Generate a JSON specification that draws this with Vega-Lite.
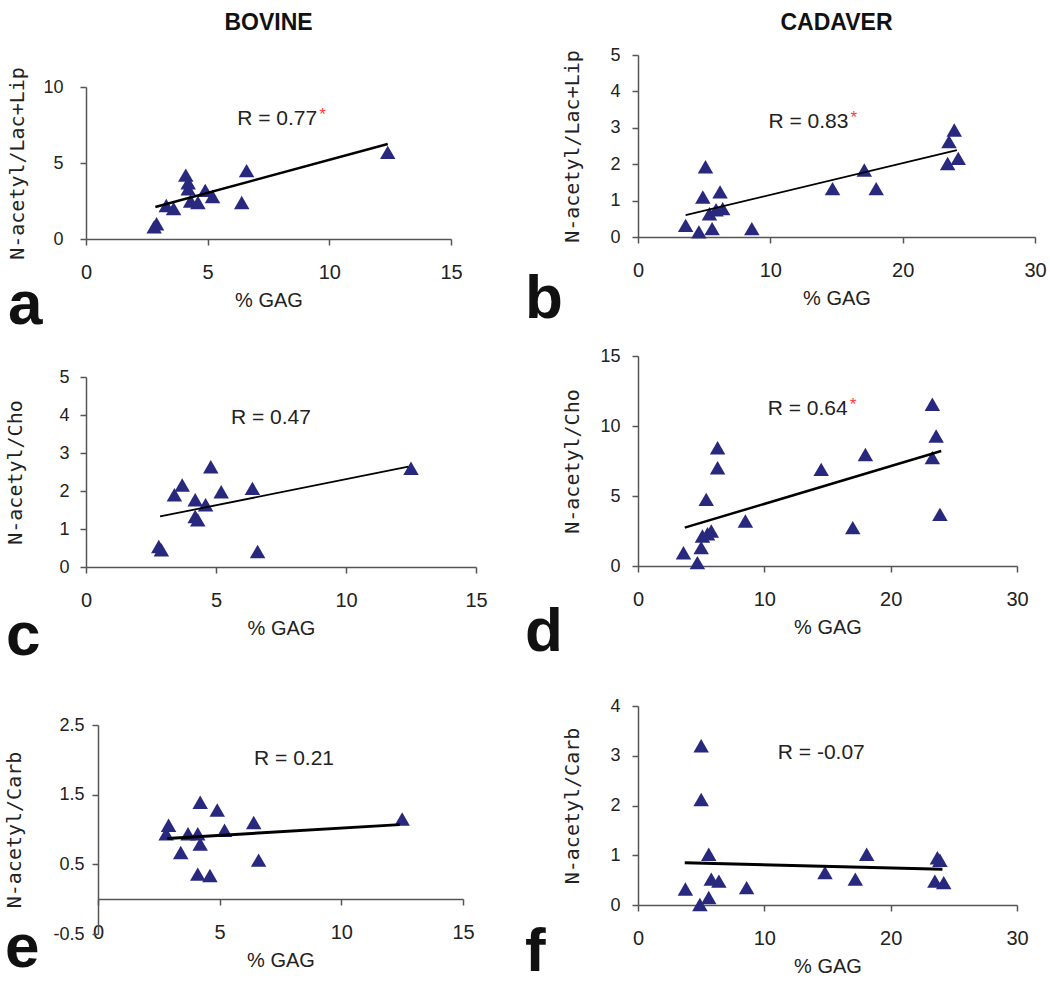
{
  "$schema": "https://vega.github.io/schema/vega-lite/v6.json",
  "background": "white",
  "padding": {"left": 4, "top": 11, "right": 0, "bottom": 5},
  "config": {
    "view": {"stroke": null},
    "font": "Liberation Sans",
    "axis": {"grid": false, "labelFlush": false, "domainColor": "#555", "tickColor": "#555", "tickSize": 6, "domainWidth": 1.5, "tickWidth": 1.5, "labelColor": "#222", "titleColor": "#222", "labelFont": "Liberation Sans", "titleFont": "Liberation Sans", "titleFontWeight": "normal", "labelFontSize": 18, "titleFontSize": 20},
    "axisX": {"labelFontSize": 20, "titleFontSize": 20, "labelPadding": 17, "titlePadding": 8},
    "axisY": {"titleFont": "DejaVu Sans Mono", "titleFontSize": 20},
    "title": {"font": "Liberation Sans", "color": "#111"}
  },
  "datasets": {
    "pts": [
      {"panel": "a", "gag": 2.8, "ratio": 0.8}, {"panel": "a", "gag": 2.9, "ratio": 1.0}, {"panel": "a", "gag": 3.3, "ratio": 2.2}, {"panel": "a", "gag": 3.6, "ratio": 2.0}, {"panel": "a", "gag": 4.1, "ratio": 4.2}, {"panel": "a", "gag": 4.2, "ratio": 3.7}, {"panel": "a", "gag": 4.2, "ratio": 3.3}, {"panel": "a", "gag": 4.3, "ratio": 2.5}, {"panel": "a", "gag": 4.6, "ratio": 2.4}, {"panel": "a", "gag": 4.9, "ratio": 3.2}, {"panel": "a", "gag": 5.2, "ratio": 2.8}, {"panel": "a", "gag": 6.4, "ratio": 2.4}, {"panel": "a", "gag": 6.6, "ratio": 4.5}, {"panel": "a", "gag": 12.4, "ratio": 5.7},
      {"panel": "b", "gag": 3.6, "ratio": 0.32}, {"panel": "b", "gag": 4.6, "ratio": 0.14}, {"panel": "b", "gag": 4.9, "ratio": 1.1}, {"panel": "b", "gag": 5.1, "ratio": 1.93}, {"panel": "b", "gag": 5.4, "ratio": 0.64}, {"panel": "b", "gag": 5.6, "ratio": 0.23}, {"panel": "b", "gag": 5.9, "ratio": 0.75}, {"panel": "b", "gag": 6.2, "ratio": 1.24}, {"panel": "b", "gag": 6.4, "ratio": 0.78}, {"panel": "b", "gag": 8.6, "ratio": 0.23}, {"panel": "b", "gag": 14.7, "ratio": 1.33}, {"panel": "b", "gag": 17.1, "ratio": 1.84}, {"panel": "b", "gag": 18.0, "ratio": 1.33}, {"panel": "b", "gag": 23.4, "ratio": 2.02}, {"panel": "b", "gag": 23.5, "ratio": 2.62}, {"panel": "b", "gag": 23.9, "ratio": 2.94}, {"panel": "b", "gag": 24.2, "ratio": 2.16},
      {"panel": "c", "gag": 2.8, "ratio": 0.54}, {"panel": "c", "gag": 2.9, "ratio": 0.45}, {"panel": "c", "gag": 3.4, "ratio": 1.9}, {"panel": "c", "gag": 3.7, "ratio": 2.16}, {"panel": "c", "gag": 4.2, "ratio": 1.77}, {"panel": "c", "gag": 4.2, "ratio": 1.33}, {"panel": "c", "gag": 4.3, "ratio": 1.24}, {"panel": "c", "gag": 4.6, "ratio": 1.64}, {"panel": "c", "gag": 4.8, "ratio": 2.64}, {"panel": "c", "gag": 5.2, "ratio": 1.98}, {"panel": "c", "gag": 6.4, "ratio": 2.07}, {"panel": "c", "gag": 6.6, "ratio": 0.41}, {"panel": "c", "gag": 12.5, "ratio": 2.6},
      {"panel": "d", "gag": 3.6, "ratio": 0.95}, {"panel": "d", "gag": 4.7, "ratio": 0.24}, {"panel": "d", "gag": 5.0, "ratio": 1.31}, {"panel": "d", "gag": 5.1, "ratio": 2.14}, {"panel": "d", "gag": 5.4, "ratio": 4.76}, {"panel": "d", "gag": 5.5, "ratio": 2.3}, {"panel": "d", "gag": 5.8, "ratio": 2.5}, {"panel": "d", "gag": 6.3, "ratio": 8.45}, {"panel": "d", "gag": 6.3, "ratio": 7.02}, {"panel": "d", "gag": 8.5, "ratio": 3.21}, {"panel": "d", "gag": 14.5, "ratio": 6.9}, {"panel": "d", "gag": 17.0, "ratio": 2.74}, {"panel": "d", "gag": 18.0, "ratio": 7.97}, {"panel": "d", "gag": 23.3, "ratio": 11.55}, {"panel": "d", "gag": 23.6, "ratio": 9.29}, {"panel": "d", "gag": 23.3, "ratio": 7.74}, {"panel": "d", "gag": 23.9, "ratio": 3.69},
      {"panel": "e", "gag": 2.9, "ratio": 1.06}, {"panel": "e", "gag": 2.8, "ratio": 0.94}, {"panel": "e", "gag": 3.4, "ratio": 0.67}, {"panel": "e", "gag": 3.7, "ratio": 0.94}, {"panel": "e", "gag": 4.1, "ratio": 0.94}, {"panel": "e", "gag": 4.2, "ratio": 0.79}, {"panel": "e", "gag": 4.2, "ratio": 1.39}, {"panel": "e", "gag": 4.1, "ratio": 0.36}, {"panel": "e", "gag": 4.6, "ratio": 0.34}, {"panel": "e", "gag": 4.9, "ratio": 1.28}, {"panel": "e", "gag": 5.2, "ratio": 0.99}, {"panel": "e", "gag": 6.4, "ratio": 1.1}, {"panel": "e", "gag": 6.6, "ratio": 0.56}, {"panel": "e", "gag": 12.5, "ratio": 1.15},
      {"panel": "f", "gag": 3.75, "ratio": 0.32}, {"panel": "f", "gag": 4.9, "ratio": 0.01}, {"panel": "f", "gag": 5.0, "ratio": 3.2}, {"panel": "f", "gag": 5.0, "ratio": 2.12}, {"panel": "f", "gag": 5.6, "ratio": 1.02}, {"panel": "f", "gag": 5.6, "ratio": 0.15}, {"panel": "f", "gag": 5.8, "ratio": 0.52}, {"panel": "f", "gag": 6.4, "ratio": 0.48}, {"panel": "f", "gag": 8.6, "ratio": 0.35}, {"panel": "f", "gag": 14.8, "ratio": 0.65}, {"panel": "f", "gag": 17.2, "ratio": 0.52}, {"panel": "f", "gag": 18.1, "ratio": 1.02}, {"panel": "f", "gag": 23.5, "ratio": 0.48}, {"panel": "f", "gag": 23.7, "ratio": 0.95}, {"panel": "f", "gag": 23.9, "ratio": 0.9}, {"panel": "f", "gag": 24.2, "ratio": 0.45}
    ],
    "fit": [
      {"panel": "a", "gag": 2.85, "ratio": 2.1}, {"panel": "a", "gag": 12.4, "ratio": 6.25},
      {"panel": "b", "gag": 3.6, "ratio": 0.6}, {"panel": "b", "gag": 24.1, "ratio": 2.39},
      {"panel": "c", "gag": 2.85, "ratio": 1.33}, {"panel": "c", "gag": 12.4, "ratio": 2.64},
      {"panel": "d", "gag": 3.7, "ratio": 2.74}, {"panel": "d", "gag": 24.0, "ratio": 8.21},
      {"panel": "e", "gag": 2.85, "ratio": 0.87}, {"panel": "e", "gag": 12.4, "ratio": 1.07},
      {"panel": "f", "gag": 3.7, "ratio": 0.85}, {"panel": "f", "gag": 24.1, "ratio": 0.72}
    ],
    "ann": [
      {"panel": "a", "gag": 9.5, "ratio": 7.9, "label": "R = 0.77", "star": "*"},
      {"panel": "b", "gag": 15.9, "ratio": 3.17, "label": "R = 0.83", "star": "*"},
      {"panel": "c", "gag": 8.65, "ratio": 3.91, "label": "R = 0.47", "star": ""},
      {"panel": "d", "gag": 16.6, "ratio": 11.2, "label": "R = 0.64", "star": "*"},
      {"panel": "e", "gag": 9.7, "ratio": 2.01, "label": "R = 0.21", "star": ""},
      {"panel": "f", "gag": 17.95, "ratio": 3.06, "label": "R = -0.07", "star": ""}
    ],
    "heads": [
      {"col": "bovine", "label": "BOVINE"},
      {"col": "cadaver", "label": "CADAVER"}
    ]
  },
  "columns": 2, "align": "none", "spacing": 36,
  "concat": [
    {
      "columns": 1, "align": "none", "spacing": 49,
      "concat": [
        {
          "columns": 1, "align": "none", "spacing": 32,
          "concat": [
            {
              "columns": 1, "align": "none", "spacing": 31,
              "concat": [
                {
                  "width": 365, "height": 1,
                  "data": {"name": "heads"}, "transform": [{"filter": "datum.col == 'bovine'"}],
                  "mark": {"type": "text", "fontSize": 23, "fontWeight": "bold", "color": "#111", "baseline": "middle", "align": "center"},
                  "encoding": {"text": {"field": "label"}}
                },
                {
                  "width": 365, "height": 152,
                  "title": {"text": "a", "orient": "bottom", "anchor": "start", "fontSize": 62, "fontWeight": "bold", "offset": -35},
                  "encoding": {
                    "x": {"field": "gag", "type": "quantitative", "scale": {"domain": [0, 15], "nice": false, "zero": false}, "axis": {"values": [0, 5, 10, 15], "title": "% GAG"}},
                    "y": {"field": "ratio", "type": "quantitative", "scale": {"domain": [0, 10], "nice": false, "zero": false}, "axis": {"values": [0, 5, 10], "title": "N-acetyl/Lac+Lip", "labelPadding": 17, "titlePadding": 15}}
                  },
                  "layer": [
                    {"data": {"name": "pts"}, "transform": [{"filter": "datum.panel == 'a'"}], "mark": {"type": "point", "shape": "triangle-up", "filled": true, "size": 240, "color": "#28287e", "opacity": 1}},
                    {"data": {"name": "fit"}, "transform": [{"filter": "datum.panel == 'a'"}], "mark": {"type": "line", "color": "#000", "strokeWidth": 2.5}},
                    {"data": {"name": "ann"}, "transform": [{"filter": "datum.panel == 'a'"}], "mark": {"type": "text", "align": "right", "baseline": "middle", "fontSize": 21, "color": "#222"}, "encoding": {"text": {"field": "label"}}},
                    {"data": {"name": "ann"}, "transform": [{"filter": "datum.panel == 'a'"}], "mark": {"type": "text", "align": "left", "baseline": "middle", "fontSize": 17, "color": "#ff3b3b", "dx": 2, "dy": -4}, "encoding": {"text": {"field": "star"}}}
                  ]
                }
              ]
            },
            {
              "width": 390, "height": 190,
              "title": {"text": "c", "orient": "bottom", "anchor": "start", "fontSize": 62, "fontWeight": "bold", "offset": -32},
              "encoding": {
                "x": {"field": "gag", "type": "quantitative", "scale": {"domain": [0, 15], "nice": false, "zero": false}, "axis": {"values": [0, 5, 10, 15], "title": "% GAG"}},
                "y": {"field": "ratio", "type": "quantitative", "scale": {"domain": [0, 5], "nice": false, "zero": false}, "axis": {"values": [0, 1, 2, 3, 4, 5], "title": "N-acetyl/Cho", "labelPadding": 11, "titlePadding": 33}}
              },
              "layer": [
                {"data": {"name": "pts"}, "transform": [{"filter": "datum.panel == 'c'"}], "mark": {"type": "point", "shape": "triangle-up", "filled": true, "size": 240, "color": "#28287e", "opacity": 1}},
                {"data": {"name": "fit"}, "transform": [{"filter": "datum.panel == 'c'"}], "mark": {"type": "line", "color": "#000", "strokeWidth": 1.8}},
                {"data": {"name": "ann"}, "transform": [{"filter": "datum.panel == 'c'"}], "mark": {"type": "text", "align": "right", "baseline": "middle", "fontSize": 21, "color": "#222"}, "encoding": {"text": {"field": "label"}}}
              ]
            }
          ]
        },
        {
          "width": 377, "height": 209,
          "title": {"text": "e", "orient": "bottom", "anchor": "start", "fontSize": 62, "fontWeight": "bold", "offset": -52},
          "encoding": {
            "x": {"field": "gag", "type": "quantitative", "scale": {"domain": [0, 15], "range": [12, 377], "nice": false, "zero": false}, "axis": {"values": [0, 5, 10, 15], "title": "% GAG", "offset": -35}},
            "y": {"field": "ratio", "type": "quantitative", "scale": {"domain": [-0.5, 2.5], "nice": false, "zero": false}, "axis": {"values": [-0.5, 0.5, 1.5, 2.5], "format": ".1f", "labelExpr": "replace(datum.label, '\u2212', '-')", "title": "N-acetyl/Carb", "offset": -12, "labelPadding": 8, "titlePadding": 28}}
          },
          "layer": [
            {"data": {"name": "pts"}, "transform": [{"filter": "datum.panel == 'e'"}], "mark": {"type": "point", "shape": "triangle-up", "filled": true, "size": 240, "color": "#28287e", "opacity": 1}},
            {"data": {"name": "fit"}, "transform": [{"filter": "datum.panel == 'e'"}], "mark": {"type": "line", "color": "#000", "strokeWidth": 3}},
            {"data": {"name": "ann"}, "transform": [{"filter": "datum.panel == 'e'"}], "mark": {"type": "text", "align": "right", "baseline": "middle", "fontSize": 21, "color": "#222"}, "encoding": {"text": {"field": "label"}}}
          ]
        }
      ]
    },
    {
      "columns": 1, "align": "none", "spacing": 34,
      "concat": [
        {
          "columns": 1, "align": "none", "spacing": 17,
          "concat": [
            {
              "columns": 1, "align": "none", "spacing": 11,
              "concat": [
                {
                  "width": 397, "height": 1,
                  "data": {"name": "heads"}, "transform": [{"filter": "datum.col == 'cadaver'"}],
                  "mark": {"type": "text", "fontSize": 23, "fontWeight": "bold", "color": "#111", "baseline": "middle", "align": "center"},
                  "encoding": {"text": {"field": "label"}}
                },
                {
                  "width": 397, "height": 182,
                  "title": {"text": "b", "orient": "bottom", "anchor": "start", "fontSize": 62, "fontWeight": "bold", "offset": -39, "dx": -38},
                  "encoding": {
                    "x": {"field": "gag", "type": "quantitative", "scale": {"domain": [0, 30], "nice": false, "zero": false}, "axis": {"values": [0, 10, 20, 30], "title": "% GAG"}},
                    "y": {"field": "ratio", "type": "quantitative", "scale": {"domain": [0, 5], "nice": false, "zero": false}, "axis": {"values": [0, 1, 2, 3, 4, 5], "title": "N-acetyl/Lac+Lip", "labelPadding": 12, "titlePadding": 27}}
                  },
                  "layer": [
                    {"data": {"name": "pts"}, "transform": [{"filter": "datum.panel == 'b'"}], "mark": {"type": "point", "shape": "triangle-up", "filled": true, "size": 240, "color": "#28287e", "opacity": 1}},
                    {"data": {"name": "fit"}, "transform": [{"filter": "datum.panel == 'b'"}], "mark": {"type": "line", "color": "#000", "strokeWidth": 1.8}},
                    {"data": {"name": "ann"}, "transform": [{"filter": "datum.panel == 'b'"}], "mark": {"type": "text", "align": "right", "baseline": "middle", "fontSize": 21, "color": "#222"}, "encoding": {"text": {"field": "label"}}},
                    {"data": {"name": "ann"}, "transform": [{"filter": "datum.panel == 'b'"}], "mark": {"type": "text", "align": "left", "baseline": "middle", "fontSize": 17, "color": "#ff3b3b", "dx": 2, "dy": -4}, "encoding": {"text": {"field": "star"}}}
                  ]
                }
              ]
            },
            {
              "width": 379, "height": 210,
              "title": {"text": "d", "orient": "bottom", "anchor": "start", "fontSize": 62, "fontWeight": "bold", "offset": -35, "dx": -38},
              "encoding": {
                "x": {"field": "gag", "type": "quantitative", "scale": {"domain": [0, 30], "nice": false, "zero": false}, "axis": {"values": [0, 10, 20, 30], "title": "% GAG"}},
                "y": {"field": "ratio", "type": "quantitative", "scale": {"domain": [0, 15], "nice": false, "zero": false}, "axis": {"values": [0, 5, 10, 15], "title": "N-acetyl/Cho", "labelPadding": 12, "titlePadding": 17}}
              },
              "layer": [
                {"data": {"name": "pts"}, "transform": [{"filter": "datum.panel == 'd'"}], "mark": {"type": "point", "shape": "triangle-up", "filled": true, "size": 240, "color": "#28287e", "opacity": 1}},
                {"data": {"name": "fit"}, "transform": [{"filter": "datum.panel == 'd'"}], "mark": {"type": "line", "color": "#000", "strokeWidth": 2.5}},
                {"data": {"name": "ann"}, "transform": [{"filter": "datum.panel == 'd'"}], "mark": {"type": "text", "align": "right", "baseline": "middle", "fontSize": 21, "color": "#222"}, "encoding": {"text": {"field": "label"}}},
                {"data": {"name": "ann"}, "transform": [{"filter": "datum.panel == 'd'"}], "mark": {"type": "text", "align": "left", "baseline": "middle", "fontSize": 17, "color": "#ff3b3b", "dx": 2, "dy": -4}, "encoding": {"text": {"field": "star"}}}
              ]
            }
          ]
        },
        {
          "width": 379, "height": 199,
          "title": {"text": "f", "orient": "bottom", "anchor": "start", "fontSize": 62, "fontWeight": "bold", "offset": -54, "dx": -38},
          "encoding": {
            "x": {"field": "gag", "type": "quantitative", "scale": {"domain": [0, 30], "nice": false, "zero": false}, "axis": {"values": [0, 10, 20, 30], "title": "% GAG"}},
            "y": {"field": "ratio", "type": "quantitative", "scale": {"domain": [0, 4], "nice": false, "zero": false}, "axis": {"values": [0, 1, 2, 3, 4], "title": "N-acetyl/Carb", "labelPadding": 12, "titlePadding": 27}}
          },
          "layer": [
            {"data": {"name": "pts"}, "transform": [{"filter": "datum.panel == 'f'"}], "mark": {"type": "point", "shape": "triangle-up", "filled": true, "size": 240, "color": "#28287e", "opacity": 1}},
            {"data": {"name": "fit"}, "transform": [{"filter": "datum.panel == 'f'"}], "mark": {"type": "line", "color": "#000", "strokeWidth": 3}},
            {"data": {"name": "ann"}, "transform": [{"filter": "datum.panel == 'f'"}], "mark": {"type": "text", "align": "right", "baseline": "middle", "fontSize": 21, "color": "#222"}, "encoding": {"text": {"field": "label"}}}
          ]
        }
      ]
    }
  ]
}
